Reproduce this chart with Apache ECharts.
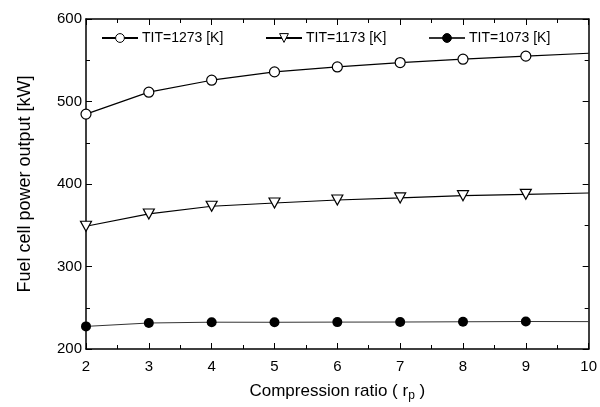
<!DOCTYPE html>
<html>
<head>
<meta charset="utf-8">
<script src="https://cdn.jsdelivr.net/npm/echarts@6/dist/echarts.min.js"></script>
<style>
  html, body { margin: 0; padding: 0; background: #fff; }
  #chart { width: 600px; height: 407px; }
</style>
</head>
<body>
<div id="chart"></div>
<script>
// Compression ratio values on the x axis
const ratios = [2, 3, 4, 5, 6, 7, 8, 9, 10];
// Fuel cell power output [kW] for each turbine inlet temperature
const tit1273 = [484.7, 511.3, 525.8, 535.9, 541.9, 547.2, 551.3, 555.0, 558.5];
const tit1173 = [348.8, 363.7, 373.0, 377.0, 380.6, 383.1, 385.9, 387.5, 389.1];
const tit1073 = [227.4, 231.5, 232.5, 232.4, 232.6, 232.7, 233.0, 233.3, 233.2];
const seriesNames = ['TIT=1273 [K]', 'TIT=1173 [K]', 'TIT=1073 [K]'];

const FONT = 'Liberation Sans, Arial, sans-serif';

function pairs(values) {
  // the last point (r_p = 10) only carries the line, without a marker
  return ratios.map((x, i) => {
    const p = { value: [x, values[i]] };
    if (i === ratios.length - 1) p.symbol = 'none';
    return p;
  });
}

const chart = echarts.init(document.getElementById('chart'), null, { renderer: 'canvas' });

const axisLine = { show: true, lineStyle: { color: '#000', width: 1.5 } };
const tickStyle = { color: '#000', width: 1 };

const option = {
  animation: false,
  backgroundColor: '#fff',
  grid: { left: 86, right: 9, top: 19, bottom: 57 },
  legend: [
    { data: [seriesNames[0]], left: 101, top: 31 },
    { data: [seriesNames[1]], left: 265, top: 31 },
    { data: [seriesNames[2]], left: 428, top: 31 }
  ].map(l => Object.assign({
    orient: 'horizontal',
    itemWidth: 36,
    itemHeight: 11,
    padding: 0,
    itemStyle: { borderWidth: 1 },
    textStyle: { fontFamily: FONT, fontSize: 14, color: '#000', padding: [0, 0, 0, -1] }
  }, l)),
  xAxis: [
    {
      type: 'value', min: 2, max: 10, interval: 1,
      name: '{t|Compression ratio ( r}{s|p}{t| )}',
      nameLocation: 'middle', nameGap: 32,
      nameTextStyle: {
        rich: {
          t: { fontFamily: FONT, fontSize: 17, color: '#000' },
          s: { fontFamily: FONT, fontSize: 12, color: '#000', padding: [9, 0, 0, 0] }
        }
      },
      axisLine: axisLine,
      axisTick: { show: true, inside: true, length: 6, lineStyle: tickStyle },
      minorTick: { show: true, splitNumber: 2, length: 4, lineStyle: tickStyle },
      axisLabel: { fontFamily: FONT, fontSize: 15, color: '#000', margin: 10 },
      splitLine: { show: false }
    },
    {
      type: 'value', min: 2, max: 10, interval: 1, position: 'top',
      axisLine: axisLine,
      axisTick: { show: true, inside: true, length: 6, lineStyle: tickStyle },
      minorTick: { show: true, splitNumber: 2, length: 4, lineStyle: tickStyle },
      axisLabel: { show: false },
      splitLine: { show: false }
    }
  ],
  yAxis: [
    {
      type: 'value', min: 200, max: 600, interval: 100,
      name: 'Fuel cell power output [kW]',
      nameLocation: 'middle', nameGap: 52,
      nameTextStyle: { fontFamily: FONT, fontSize: 18, color: '#000' },
      axisLine: axisLine,
      axisTick: { show: true, inside: true, length: 6, lineStyle: tickStyle },
      minorTick: { show: true, splitNumber: 2, length: 4, lineStyle: tickStyle },
      axisLabel: { fontFamily: FONT, fontSize: 15, color: '#000', margin: 4 },
      splitLine: { show: false }
    },
    {
      type: 'value', min: 200, max: 600, interval: 100, position: 'right',
      axisLine: axisLine,
      axisTick: { show: true, inside: true, length: 6, lineStyle: tickStyle },
      minorTick: { show: true, splitNumber: 2, length: 4, lineStyle: tickStyle },
      axisLabel: { show: false },
      splitLine: { show: false }
    }
  ],
  series: [
    {
      name: seriesNames[0], type: 'line', data: pairs(tit1273),
      symbol: 'circle', symbolSize: 10,
      lineStyle: { color: '#000', width: 1.2 },
      itemStyle: { color: '#fff', borderColor: '#000', borderWidth: 1.2 }
    },
    {
      name: seriesNames[1], type: 'line', data: pairs(tit1173),
      symbol: 'triangle', symbolRotate: 180, symbolSize: [11, 10],
      lineStyle: { color: '#000', width: 1.2 },
      itemStyle: { color: '#fff', borderColor: '#000', borderWidth: 1.2 }
    },
    {
      name: seriesNames[2], type: 'line', data: pairs(tit1073),
      symbol: 'circle', symbolSize: 10,
      lineStyle: { color: '#333', width: 1 },
      itemStyle: { color: '#000', borderColor: '#000', borderWidth: 0 }
    }
  ]
};

chart.setOption(option);
</script>
</body>
</html>
